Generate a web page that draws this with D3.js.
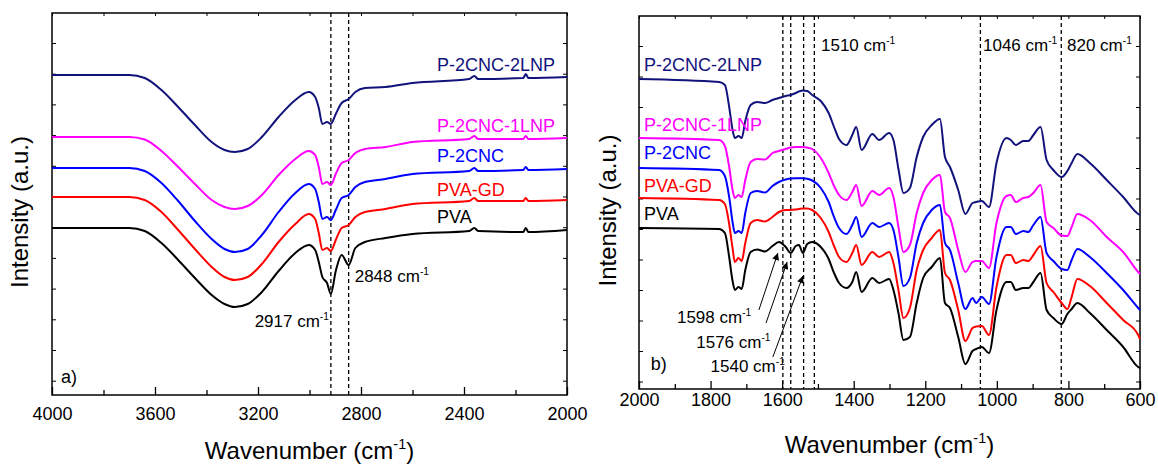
<!DOCTYPE html>
<html>
<head>
<meta charset="utf-8">
<script src="https://cdn.jsdelivr.net/npm/d3@7"></script>
<style>
  body { margin: 0; background: #fff; }
  text { font-family: "Liberation Sans", Arial, sans-serif; }
</style>
</head>
<body>
<svg id="chart" width="1158" height="465"></svg>
<script>
// FTIR spectra, panel a) 4000-2000 cm-1 and panel b) 2000-600 cm-1
// intensities are arbitrary units (stacked, offset curves)

var seriesNames = ["PVA", "PVA-GD", "P-2CNC", "P-2CNC-1LNP", "P-2CNC-2LNP"];
var seriesColors = ["#000000", "#ff0000", "#0000ff", "#ff00ff", "#12127c"];

// panel a
var wnA = [4000, 3700, 3640, 3575, 3510, 3445, 3380, 3330, 3290, 3240, 3185, 3120, 3055, 3003, 2978, 2964, 2950,
  2932, 2917, 2898, 2875, 2848, 2822, 2785, 2705, 2600, 2380, 2360, 2345, 2170, 2160, 2150, 2000];
var pvaA = [167, 167, 164, 152, 135, 117, 100, 91, 88, 91, 103, 124, 142, 150, 145, 133, 118,
  112, 101, 124, 140, 130, 147, 153, 157, 161, 164, 167, 164, 163, 167, 163, 165];
var gdA = [198, 198, 195, 183, 165, 146, 128, 118, 115, 118, 131, 153, 171, 181, 176, 162, 145,
  147, 144, 155, 167, 170, 178, 183, 186, 191, 194, 197, 194, 194, 197, 194, 195];
var cncA = [227, 227, 224, 212, 194, 174, 156, 146, 143, 146, 160, 183, 202, 211, 206, 193, 176,
  178, 175, 185, 197, 200, 208, 213, 216, 221, 224, 227, 224, 225, 228, 225, 226];
var lnp1A = [258, 258, 255.5, 244, 228, 211, 195, 188, 186, 189, 200, 220, 236, 244, 240, 228, 211,
  213, 210, 221, 232, 235, 242, 246, 248, 253, 256, 259, 256, 256, 259, 256, 257];
var lnp2A = [320, 320, 317, 305, 288, 270, 253, 245, 243, 246, 258, 278, 295, 303, 298, 287, 271,
  273, 271, 281, 292, 296, 303, 307, 308, 312, 316, 319, 316, 317, 321, 317, 318];
var peaksA = [2917, 2848];

// panel b
var wnB = [2000, 1776, 1760, 1748, 1739, 1732, 1722, 1713, 1703, 1688, 1670, 1648, 1627, 1609, 1590, 1576,
  1562, 1553, 1542, 1530, 1516, 1492, 1470, 1455, 1441, 1420, 1404, 1393, 1378, 1348, 1329, 1301, 1289,
  1275, 1261, 1243, 1224, 1206, 1182, 1159, 1145, 1131, 1108, 1088, 1068, 1058, 1042, 1022, 1001, 973,
  961, 947, 926, 912, 898, 878, 861, 842, 819, 803, 791, 775, 740, 693, 647, 605, 600];
var pvaB = [161, 160, 156, 132, 109, 99, 102, 100, 119, 137, 139.5, 137.5, 143, 147, 142, 136,
  143, 144, 136, 145, 147, 142, 130, 116, 106, 101, 107, 117, 97, 111, 106, 110, 99,
  76, 49, 52, 86, 111, 122, 131, 86, 81, 52, 25, 38, 40, 42, 36, 79, 107,
  107, 99, 101, 101, 107, 116, 79, 71, 65, 75, 80, 86, 76, 59, 42, 22, 21];
var gdB = [191, 189, 185, 165, 142, 127, 131, 128, 146, 166, 169, 167.5, 172, 177, 179, 179,
  179.5, 180, 180.5, 180.5, 179, 171, 157, 143, 132, 127, 136, 144, 124, 137, 132, 137, 126,
  99, 71, 81, 119, 139, 151, 159, 116, 109, 79, 48, 61, 62.5, 63, 54, 102, 134,
  134, 126, 129, 128, 134, 143, 106, 97, 86, 80, 92, 110, 103, 86, 69, 54, 50];
var cncB = [221, 219, 213, 192, 168, 156, 158, 156, 176, 196, 198, 196.5, 203, 207, 209.5, 210.5,
  210.7, 210.7, 210.7, 210.2, 208.5, 201, 187, 172, 161, 155, 164, 172, 152, 166, 162, 166, 159,
  132, 103, 111, 146, 166, 179, 184, 146, 139, 106, 80, 91, 86, 92, 85, 132, 162,
  162, 155, 158, 157, 164, 172, 136, 128, 120, 119, 129, 140, 132, 116, 99, 81, 79];
var lnp1B = [251, 249, 243, 222, 200, 191, 194, 192, 209, 227, 230, 229.5, 236, 238, 240, 241.5,
  242, 242, 242, 241.5, 240, 231, 216, 203, 194, 189, 197, 204, 183, 198, 194, 201, 192,
  162, 137, 144, 176, 196, 209, 214, 177, 171, 139, 117, 127, 128, 128, 121, 166, 193,
  194, 187, 191, 192, 196, 204, 167, 161, 153.5, 153, 162, 175, 169, 152, 137, 117, 115];
var lnp2B = [310, 307, 304, 282, 260, 251, 253, 251, 268, 284, 287, 286, 289, 291, 293, 294,
  296, 297.5, 298.5, 298, 294, 288, 276, 262, 250, 244, 254, 262, 239, 255, 249, 256, 249,
  220, 196, 201, 232, 252, 264, 270, 232, 222, 199, 175, 186, 187, 188, 182, 226, 251,
  249, 244, 248, 248, 254, 262, 229, 219, 212, 218, 226, 235, 226, 209, 192, 175, 174];
var peaksB = [1598, 1576, 1540, 1510, 1046, 820];

var FONT = "'Liberation Sans', Arial, sans-serif";
var svg = d3.select("#chart");

svg.append("defs").append("marker")
    .attr("id", "arrow")
    .attr("viewBox", "0 0 10 10")
    .attr("refX", 10).attr("refY", 5)
    .attr("markerWidth", 9).attr("markerHeight", 7)
    .attr("markerUnits", "userSpaceOnUse")
    .attr("orient", "auto")
    .append("path").attr("d", "M0,0 L10,5 L0,10 Z").attr("fill", "#000");

// text with a superscript part, e.g. cm-1
function supText(g, x, y, main, sup, size, after) {
    var t = g.append("text").attr("x", x).attr("y", y).attr("font-size", size).attr("fill", "#000");
    t.append("tspan").text(main);
    t.append("tspan").attr("font-size", size * 0.6).attr("dy", -size * 0.42).text(sup);
    if (after) t.append("tspan").attr("dy", size * 0.42).text(after);
    return t;
}

function panel(p) {
    var g = svg.append("g");
    var x = d3.scaleLinear().domain(p.xDomain).range([p.left, p.right]);
    var y = d3.scaleLinear().domain([0, p.bottom - p.top]).range([p.bottom, p.top]);

    // ticks
    g.append("g").attr("transform", "translate(0," + p.bottom + ")")
        .call(d3.axisBottom(x).tickValues(p.major).tickSizeInner(-8).tickSizeOuter(0)
            .tickPadding(p.labelPad).tickFormat(d3.format("d")))
        .call(a => a.select(".domain").remove())
        .call(a => a.selectAll("line").attr("stroke-width", 1.3))
        .call(a => a.selectAll("text").attr("font-size", 18).attr("font-family", FONT).attr("fill", "#000"));
    g.append("g").attr("transform", "translate(0," + p.bottom + ")")
        .call(d3.axisBottom(x).tickValues(p.minor).tickSizeInner(-5).tickSizeOuter(0).tickFormat(""))
        .call(a => a.select(".domain").remove())
        .call(a => a.selectAll("line").attr("stroke-width", 1.3));
    g.append("g").attr("transform", "translate(0," + p.top + ")")
        .call(d3.axisTop(x).tickValues(p.major.concat(p.minor)).tickSizeInner(-3).tickSizeOuter(0).tickFormat(""))
        .call(a => a.select(".domain").remove());
    g.append("g").attr("transform", "translate(" + p.left + ",0)")
        .call(d3.axisLeft(y).tickValues(p.yTicks).tickSizeInner(-4).tickSizeOuter(0).tickFormat(""))
        .call(a => a.select(".domain").remove());
    g.append("g").attr("transform", "translate(" + p.right + ",0)")
        .call(d3.axisRight(y).tickValues(p.yTicks).tickSizeInner(-4).tickSizeOuter(0).tickFormat(""))
        .call(a => a.select(".domain").remove());

    // frame
    g.append("rect").attr("x", p.left).attr("y", p.top)
        .attr("width", p.right - p.left).attr("height", p.bottom - p.top)
        .attr("fill", "none").attr("stroke", "#000").attr("stroke-width", 1.5);

    // dashed peak markers
    g.selectAll(".peak").data(p.peaks).enter().append("line")
        .attr("x1", d => x(d)).attr("x2", d => x(d))
        .attr("y1", p.top).attr("y2", p.bottom)
        .attr("stroke", "#000").attr("stroke-width", 1.3).attr("stroke-dasharray", "4,3");

    // spectra
    var line = d3.line().x(d => x(d[0])).y(d => y(d[1])).curve(d3.curveMonotoneX);
    p.series.forEach(function (vals, i) {
        g.append("path")
            .datum(p.wn.map((w, k) => [w, vals[k]]))
            .attr("d", line)
            .attr("fill", "none")
            .attr("stroke", seriesColors[i])
            .attr("stroke-width", 2)
            .attr("stroke-linejoin", "round");
    });

    // series labels
    seriesNames.forEach(function (name, i) {
        g.append("text").attr("x", x(p.nameX)).attr("y", y(p.nameY[i]))
            .attr("font-size", 18).attr("fill", seriesColors[i]).text(name);
    });

    // axis titles
    supText(g, (p.left + p.right) / 2, p.titleY, "Wavenumber (cm", "-1", 24, ")")
        .attr("text-anchor", "middle");
    g.append("text")
        .attr("transform", "translate(" + p.yTitleX + "," + ((p.top + p.bottom) / 2 + 8) + ") rotate(-90)")
        .attr("text-anchor", "middle").attr("font-size", 24).attr("fill", "#000")
        .text("Intensity (a.u.)");

    g.append("text").attr("x", x(p.tag[0])).attr("y", y(p.tag[1]))
        .attr("font-size", 18).attr("fill", "#000").text(p.tag[2]);

    p.notes.forEach(function (n) {
        supText(g, x(n[0]), y(n[1]), n[2], "-1", 17);
    });
    (p.arrows || []).forEach(function (a) {
        g.append("line")
            .attr("x1", x(a[0])).attr("y1", y(a[1]))
            .attr("x2", x(a[2])).attr("y2", y(a[3]))
            .attr("stroke", "#000").attr("stroke-width", 1)
            .attr("marker-end", "url(#arrow)");
    });
}

panel({
    left: 52, right: 567, top: 13, bottom: 395,
    xDomain: [4000, 2000],
    major: d3.range(4000, 1999, -400),
    minor: d3.range(3800, 2000, -400),
    yTicks: d3.range(352, 0, -30.7),
    labelPad: 12,
    titleY: 459, yTitleX: 28,
    wn: wnA,
    series: [pvaA, gdA, cncA, lnp1A, lnp2A],
    peaks: peaksA,
    nameX: 2505,
    nameY: [171.7, 199.3, 233.3, 262.7, 324.5],
    tag: [3965, 12.3, "a)"],
    notes: [[3213, 68.3, "2917 cm"], [2824.5, 113.3, "2848 cm"]]
});

panel({
    left: 639, right: 1140, top: 16, bottom: 389,
    xDomain: [2000, 600],
    major: d3.range(2000, 599, -200),
    minor: d3.range(1900, 600, -200),
    yTicks: d3.range(343, 0, -30.5),
    labelPad: 4,
    titleY: 453, yTitleX: 616,
    wn: wnB,
    series: [pvaB, gdB, cncB, lnp1B, lnp2B],
    peaks: peaksB,
    nameX: 1986,
    nameY: [169, 197.3, 229.7, 258.3, 318],
    tag: [1967, 19, "b)"],
    notes: [[1491.4, 338.3, "1510 cm"], [1038.7, 338, "1046 cm"], [804, 338, "820 cm"],
        [1894, 66, "1598 cm"], [1840, 41.3, "1576 cm"], [1800, 17.3, "1540 cm"]],
    arrows: [[1665, 79, 1612, 136], [1645, 66, 1586, 127], [1626, 32, 1542, 113]]
});
</script>
</body>
</html>
